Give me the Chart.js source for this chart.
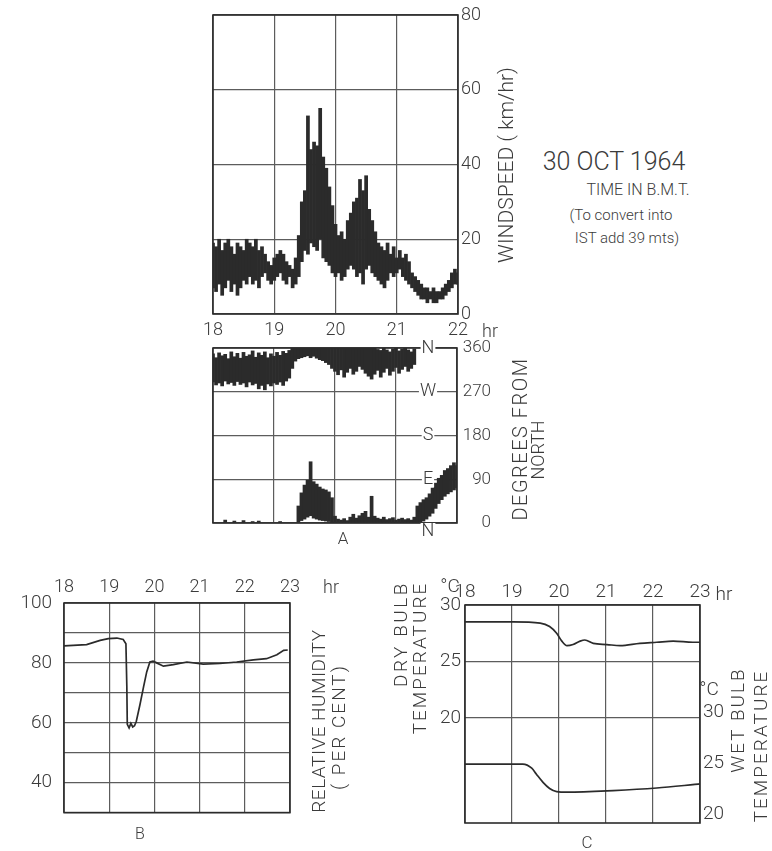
<!DOCTYPE html>
<html>
<head>
<meta charset="utf-8">
<script src="https://cdn.jsdelivr.net/npm/chart.js@4.4.1/dist/chart.umd.min.js"></script>
<style>
  html, body { margin: 0; padding: 0; background: #fff; }
  body { width: 772px; height: 851px; position: relative; overflow: hidden;
         font-family: Roboto, "DejaVu Sans", sans-serif; font-weight: 300; color: #3b3b3b; }
  .box { position: absolute; }
  .txt { position: absolute; white-space: nowrap; line-height: 1; transform: translate(-50%, -50%); }
  .rot { transform: translate(-50%, -50%) rotate(-90deg); }
</style>
</head>
<body>

<div class="box" id="windBox"><canvas id="windChart"></canvas></div>
<div class="box" id="dirBox"><canvas id="dirChart"></canvas></div>
<div class="box" id="rhBox"><canvas id="rhChart"></canvas></div>
<div class="box" id="tempBox"><canvas id="tempChart"></canvas></div>

<div class="txt rot" style="left:506px;top:165px;font-size:21px">WINDSPEED ( km/hr)</div>
<div class="txt" style="left:490px;top:331px;font-size:18px">hr</div>
<div class="txt" style="left:614px;top:161px;font-size:25px">30 OCT 1964</div>
<div class="txt" style="left:638px;top:190px;font-size:16px">TIME IN B.M.T.</div>
<div class="txt" style="left:621px;top:215px;font-size:15px">(To convert into</div>
<div class="txt" style="left:627px;top:238px;font-size:15px">IST add 39 mts)</div>

<div class="txt rot" style="left:520px;top:439px;font-size:20px;letter-spacing:1.5px">DEGREES FROM</div>
<div class="txt rot" style="left:538px;top:450px;font-size:18px">NORTH</div>
<div class="txt" style="left:343px;top:538px;font-size:17px">A</div>

<div class="txt" style="left:331px;top:587px;font-size:18px">hr</div>
<div class="txt rot" style="left:318px;top:721px;font-size:19px;letter-spacing:0.5px">RELATIVE HUMIDITY</div>
<div class="txt rot" style="left:338px;top:727px;font-size:19px;letter-spacing:2px">( PER CENT)</div>
<div class="txt" style="left:140px;top:834px;font-size:16px">B</div>

<div class="txt" style="left:450px;top:585px;font-size:19px">°C</div>
<div class="txt rot" style="left:400px;top:634px;font-size:19px;letter-spacing:2.5px">DRY BULB</div>
<div class="txt rot" style="left:419px;top:658px;font-size:19px;letter-spacing:2px">TEMPERATURE</div>
<div class="txt" style="left:724px;top:593px;font-size:19px">hr</div>
<div class="txt" style="left:709px;top:688px;font-size:19px">°C</div>
<div class="txt rot" style="left:737px;top:720px;font-size:19px;letter-spacing:2px">WET BULB</div>
<div class="txt rot" style="left:760px;top:746px;font-size:19px;letter-spacing:2px">TEMPERATURE</div>
<div class="txt" style="left:587px;top:842px;font-size:17px">C</div>

<script>
// recorder trace, sampled every 3 minutes (hours, B.M.T.)
var traceTime = [
    18, 18.05, 18.1, 18.15, 18.2, 18.25, 18.3, 18.35, 18.4, 18.45,
    18.5, 18.55, 18.6, 18.65, 18.7, 18.75, 18.8, 18.85, 18.9, 18.95,
    19, 19.05, 19.1, 19.15, 19.2, 19.25, 19.3, 19.35, 19.4, 19.45,
    19.5, 19.55, 19.6, 19.65, 19.7, 19.75, 19.8, 19.85, 19.9, 19.95,
    20, 20.05, 20.1, 20.15, 20.2, 20.25, 20.3, 20.35, 20.4, 20.45,
    20.5, 20.55, 20.6, 20.65, 20.7, 20.75, 20.8, 20.85, 20.9, 20.95,
    21, 21.05, 21.1, 21.15, 21.2, 21.25, 21.3, 21.35, 21.4, 21.45,
    21.5, 21.55, 21.6, 21.65, 21.7, 21.75, 21.8, 21.85, 21.9, 21.95,
    22
];

// windspeed envelope, km/hr
var windLow = [
    7, 6, 8, 5, 7, 9, 6, 8, 5, 7,
    9, 8, 10, 8, 9, 7, 10, 11, 9, 8,
    9, 10, 11, 9, 8, 10, 7, 8, 10, 14,
    17, 16, 19, 18, 17, 20, 15, 14, 13, 11,
    10, 11, 9, 10, 12, 13, 12, 10, 11, 8,
    12, 13, 11, 10, 9, 8, 7, 9, 11, 10,
    11, 12, 10, 9, 8, 7, 6, 5, 4, 4,
    3, 4, 3, 3, 4, 4, 5, 6, 7, 8,
    8
];
var windHigh = [
    19, 18, 20, 17, 19, 20, 18, 16, 19, 18,
    17, 20, 19, 18, 20, 17, 18, 16, 14, 13,
    15, 16, 17, 16, 14, 13, 12, 15, 21, 30,
    33, 53, 44, 46, 45, 55, 42, 39, 34, 29,
    24, 21, 22, 20, 25, 27, 30, 31, 36, 33,
    37, 28, 25, 22, 19, 18, 17, 19, 16, 18,
    15, 17, 15, 16, 14, 11, 10, 9, 8, 7,
    7, 6, 7, 6, 6, 7, 8, 9, 11, 12,
    11
];

// wind direction, degrees from north: band near 360 and band near 0
var dirUpperLow = [
    290, 284, 288, 282, 292, 286, 289, 283, 291, 285,
    288, 280, 290, 284, 287, 276, 283, 274, 286, 282,
    288, 285, 290, 283, 292, 298, 318, 333, 338, 340,
    342, 344, 340, 343, 339, 336, 334, 330, 326, 318,
    312, 305, 315, 300, 310, 318, 306, 312, 322, 316,
    308, 302, 296, 306, 314, 300, 310, 318, 304, 312,
    320, 308, 316, 322, 312, 318, 326, null, null, null,
    null, null, null, null, null, null, null, null, null, null,
    null
];
var dirUpperHigh = [
    348, 340, 350, 344, 347, 338, 352, 342, 349, 339,
    351, 343, 346, 354, 341, 350, 345, 352, 340, 348,
    343, 351, 345, 353, 349, 355, 360, 360, 360, 360,
    360, 360, 360, 360, 360, 360, 360, 360, 360, 360,
    360, 360, 360, 360, 360, 360, 360, 360, 360, 360,
    360, 360, 360, 360, 357, 355, 360, 356, 352, 358,
    360, 354, 358, 360, 356, 352, 358, null, null, null,
    null, null, null, null, null, null, null, null, null, null,
    null
];
var dirLowerLow = [
    null, null, null, null, 0, null, null, 0, null, null,
    0, null, null, 0, null, 0, null, null, null, null,
    null, null, 0, null, null, null, null, null, 2, 5,
    8, 12, 15, 10, 8, 6, 5, 4, 3, 1,
    0, 0, 0, 0, 0, 0, 0, 0, 0, 0,
    0, 0, 0, 0, 0, 0, 0, 0, 0, 0,
    0, 0, 0, 0, 0, 0, 0, 0, 2, 4,
    8, 14, 20, 30, 40, 48, 55, 60, 64, 68,
    72
];
var dirLowerHigh = [
    null, null, null, null, 6, null, null, 4, null, null,
    5, null, null, 3, null, 4, null, null, null, null,
    null, null, 3, null, null, null, null, null, 35, 62,
    78, 88, 126, 85, 80, 74, 70, 68, 64, 52,
    14, 8, 6, 9, 5, 12, 18, 10, 15, 20,
    24, 12, 55, 14, 10, 8, 12, 7, 9, 11,
    6, 8, 10, 7, 9, 6, 12, 35, 42, 48,
    52, 60, 72, 82, 92, 98, 108, 112, 118, 124,
    118
];
var compassLabels = ['N', 'W', 'S', 'E', 'N'];
var compassDegrees = [360, 270, 180, 90, 0];

// relative humidity, per cent
var rhTime = [18, 18.5, 18.8, 18.98, 19.17, 19.31, 19.37, 19.39, 19.4, 19.44, 19.48, 19.52, 19.56, 19.6,
    19.68, 19.76, 19.83, 19.9, 19.97, 20.05, 20.2, 20.42, 20.72, 21.08, 21.45, 21.82, 22.19, 22.48,
    22.71, 22.86, 22.95];
var rhValue = [85.7, 86.1, 87.5, 88.1, 88.3, 87.8, 86.4, 72, 59.5, 58.3, 59.8, 58.6, 59.0, 60.5,
    66, 72, 77, 80.3, 80.6, 80, 78.9, 79.4, 80.3, 79.6, 79.8, 80.3, 81.0, 81.4,
    82.7, 84.2, 84.3];

// dry and wet bulb temperature, deg C
var dryTime = [18, 19.02, 19.6, 19.8, 19.95, 20.06, 20.17, 20.3, 20.45, 20.55, 20.73, 21.02, 21.3,
    21.72, 22.08, 22.43, 22.85, 23];
var dryValue = [28.5, 28.5, 28.4, 28.1, 27.5, 26.8, 26.4, 26.5, 26.8, 26.9, 26.6, 26.5, 26.4,
    26.6, 26.7, 26.8, 26.7, 26.7];
var wetTime = [18, 19.23, 19.42, 19.52, 19.66, 19.8, 19.95, 20.17, 21.15, 22.08, 22.89, 23];
var wetValue = [24.9, 24.9, 24.5, 23.9, 23.1, 22.5, 22.2, 22.15, 22.3, 22.55, 22.9, 22.95];
var tempTicks = [20, 25, 30];

var INK = '#2b2b2b';
var GRID = '#5c5c5c';
var TEXT = '#3b3b3b';
var PAD = 16;

Chart.defaults.font.family = 'Roboto, "DejaVu Sans", sans-serif';
Chart.defaults.font.weight = 300;
Chart.defaults.color = TEXT;

var framePlugin = {
    id: 'frame',
    afterDatasetsDraw: function (chart) {
        var a = chart.chartArea, c = chart.ctx;
        c.save();
        c.strokeStyle = INK;
        c.lineWidth = 1.6;
        c.strokeRect(a.left, a.top, a.right - a.left, a.bottom - a.top);
        c.restore();
    }
};

var compassPlugin = {
    id: 'compass',
    afterDraw: function (chart) {
        var y = chart.scales.y, a = chart.chartArea, c = chart.ctx;
        c.save();
        c.font = '300 18px Roboto, "DejaVu Sans", sans-serif';
        c.textAlign = 'center';
        c.textBaseline = 'middle';
        compassLabels.forEach(function (lab, i) {
            var py = y.getPixelForValue(compassDegrees[i]);
            if (compassDegrees[i] === 0) {
                py += 8;
            }
            var px = a.right - 29;
            var w = c.measureText(lab).width;
            c.fillStyle = '#fff';
            c.fillRect(px - w / 2 - 1, py - 8, w + 2, 16);
            c.fillStyle = TEXT;
            c.fillText(lab, px, py);
        });
        c.restore();
    }
};

function placeBox(id, plot, ax) {
    var el = document.getElementById(id);
    el.style.left = (plot.left - ax.left - PAD) + 'px';
    el.style.top = (plot.top - ax.top - PAD) + 'px';
    el.style.width = (plot.width + ax.left + ax.right + 2 * PAD) + 'px';
    el.style.height = (plot.height + ax.top + ax.bottom + 2 * PAD) + 'px';
}

function fixedWidth(w) {
    return function (scale) { scale.width = w; };
}

function fixedHeight(h) {
    return function (scale) { scale.height = h; };
}

function pairs(xs, ys) {
    return xs.map(function (x, i) { return {x: x, y: ys[i]}; });
}

function ranges(xs, lo, hi) {
    var out = [];
    xs.forEach(function (x, i) {
        if (lo[i] !== null) {
            out.push({x: x, y: [lo[i], hi[i]]});
        }
    });
    return out;
}

function gridStyle(extra) {
    return Object.assign({color: GRID, lineWidth: 1.2, drawTicks: false, offset: false}, extra || {});
}

function baseOptions(scales) {
    return {
        responsive: true,
        maintainAspectRatio: false,
        animation: false,
        events: [],
        layout: {padding: PAD},
        plugins: {legend: {display: false}, tooltip: {enabled: false}},
        scales: scales
    };
}

function barSet(data) {
    return {
        data: data, backgroundColor: INK, borderWidth: 0,
        barPercentage: 1, categoryPercentage: 1, grouped: false
    };
}

function initializeCharts() {
    // A: windspeed
    var windAx = {left: 0, right: 45, top: 0, bottom: 26};
    placeBox('windBox', {left: 213, top: 15, width: 245, height: 299}, windAx);
    new Chart(document.getElementById('windChart'), {
        type: 'bar',
        data: {datasets: [barSet(ranges(traceTime, windLow, windHigh))]},
        options: baseOptions({
            x: {
                type: 'linear', position: 'bottom', min: 18, max: 22, offset: false,
                ticks: {stepSize: 1, padding: 6, font: {size: 18}},
                grid: gridStyle(), border: {display: false},
                afterFit: fixedHeight(windAx.bottom)
            },
            y: {
                position: 'right', min: 0, max: 80,
                ticks: {stepSize: 20, padding: 3, font: {size: 18}},
                grid: gridStyle(), border: {display: false},
                afterFit: fixedWidth(windAx.right)
            }
        }),
        plugins: [framePlugin]
    });

    // A: wind direction
    var dirAx = {left: 0, right: 34, top: 0, bottom: 0};
    placeBox('dirBox', {left: 213, top: 348, width: 244, height: 175}, dirAx);
    new Chart(document.getElementById('dirChart'), {
        type: 'bar',
        data: {
            datasets: [
                barSet(ranges(traceTime, dirUpperLow, dirUpperHigh)),
                barSet(ranges(traceTime, dirLowerLow, dirLowerHigh))
            ]
        },
        options: baseOptions({
            x: {
                type: 'linear', position: 'bottom', min: 18, max: 22, offset: false,
                ticks: {stepSize: 1, display: false},
                grid: gridStyle(), border: {display: false},
                afterFit: fixedHeight(0)
            },
            y: {
                position: 'right', min: 0, max: 360,
                ticks: {stepSize: 90, padding: 5, crossAlign: 'far', font: {size: 17}},
                grid: gridStyle(), border: {display: false},
                afterFit: fixedWidth(dirAx.right)
            }
        }),
        plugins: [framePlugin, compassPlugin]
    });

    // B: relative humidity
    var rhAx = {left: 50, right: 0, top: 26, bottom: 0};
    placeBox('rhBox', {left: 64, top: 603, width: 226, height: 217}, rhAx);
    new Chart(document.getElementById('rhChart'), {
        type: 'line',
        data: {
            datasets: [{
                data: pairs(rhTime, rhValue), borderColor: INK, borderWidth: 1.7,
                pointRadius: 0, tension: 0, fill: false
            }]
        },
        options: baseOptions({
            x: {
                type: 'linear', position: 'top', min: 18, max: 23,
                ticks: {stepSize: 1, padding: 5, font: {size: 18}},
                grid: gridStyle(), border: {display: false},
                afterFit: fixedHeight(rhAx.top)
            },
            y: {
                position: 'left', min: 30, max: 100,
                ticks: {
                    stepSize: 10, padding: 12, font: {size: 19},
                    callback: function (v) { return v % 20 === 0 ? v : ''; }
                },
                grid: gridStyle(), border: {display: false},
                afterFit: fixedWidth(rhAx.left)
            }
        }),
        plugins: [framePlugin]
    });

    // C: dry and wet bulb temperature
    var tempAx = {left: 42, right: 40, top: 26, bottom: 0};
    placeBox('tempBox', {left: 465, top: 605, width: 235, height: 218}, tempAx);
    new Chart(document.getElementById('tempChart'), {
        type: 'line',
        data: {
            datasets: [
                {
                    data: pairs(dryTime, dryValue), yAxisID: 'y', borderColor: INK, borderWidth: 1.7,
                    pointRadius: 0, cubicInterpolationMode: 'monotone', fill: false
                },
                {
                    data: pairs(wetTime, wetValue), yAxisID: 'y2', borderColor: INK, borderWidth: 1.7,
                    pointRadius: 0, cubicInterpolationMode: 'monotone', fill: false
                }
            ]
        },
        options: baseOptions({
            x: {
                type: 'linear', position: 'top', min: 18, max: 23,
                ticks: {stepSize: 1, padding: 1, font: {size: 19}},
                grid: gridStyle(), border: {display: false},
                afterFit: fixedHeight(tempAx.top)
            },
            y: {
                position: 'left', min: 10.7, max: 30,
                ticks: {padding: 4, font: {size: 19}},
                afterBuildTicks: function (scale) {
                    scale.ticks = tempTicks.map(function (v) { return {value: v}; });
                },
                grid: gridStyle(), border: {display: false},
                afterFit: fixedWidth(tempAx.left)
            },
            y2: {
                position: 'right', min: 19.12, max: 40.49,
                ticks: {padding: 3, font: {size: 19}},
                afterBuildTicks: function (scale) {
                    scale.ticks = tempTicks.map(function (v) { return {value: v}; });
                },
                grid: {drawOnChartArea: false, drawTicks: false}, border: {display: false},
                afterFit: fixedWidth(tempAx.right)
            }
        }),
        plugins: [framePlugin]
    });
}

document.addEventListener('DOMContentLoaded', initializeCharts);
</script>
</body>
</html>
